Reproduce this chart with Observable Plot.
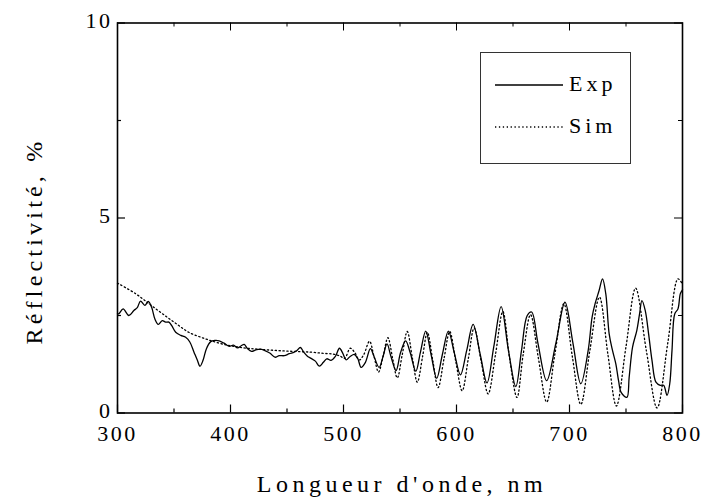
<!DOCTYPE html>
<html><head><meta charset="utf-8">
<script src="https://cdn.jsdelivr.net/npm/d3@7"></script>
<script src="https://cdn.jsdelivr.net/npm/@observablehq/plot@0.6"></script>
<style>
body{margin:0;background:#fff;}
#wrap{position:relative;width:702px;height:502px;font-family:"Liberation Serif","Times New Roman",serif;color:#000;}
.ttl{position:absolute;white-space:nowrap;line-height:24px;}
</style></head><body><div id="wrap"></div>
<script>
// Experimental reflectivity (wavelength nm, %)
const expNm = [300,301,305,310,314.5,317.5,320.4,324.2,327.2,330.2,333.1,336.1,339.6,342.6,345.5,348,351.5,356,360.3,364,367.7,370.7,373,375.7,378.7,382.5,386.3,390,394.3,398.8,402.6,406.2,409.8,412.1,415.1,418.6,422.5,426.3,430.4,435.1,439.3,443.1,447.6,452,456.4,458.8,461.8,464.8,468.3,471.3,475.1,478.6,482.2,485.2,489,492.8,496.4,499.4,502.3,505.9,509.7,512.7,515.6,519.4,523.8,527,531.5,535,538.5,542,546.5,550.5,555,559,564,568,572.8,577.5,582.5,587.5,592.8,598,603.5,609,614.7,621,627,633,639.5,646,652.5,657.5,662.6,666.5,672,679.8,688,696,703,710,716.5,720,722.6,726.2,729.2,732.1,735.1,738.1,741,743.4,745.7,750.8,752.8,755.8,759.6,762,764.1,767,770,773,776.5,780.3,783.3,786.3,788.7,790.7,793.1,796,798.1,800];
const expR = [2.55,2.54,2.67,2.50,2.63,2.70,2.87,2.76,2.86,2.71,2.41,2.27,2.37,2.33,2.33,2.24,2.07,1.99,1.94,1.82,1.56,1.35,1.20,1.35,1.65,1.83,1.86,1.85,1.79,1.71,1.74,1.67,1.73,1.76,1.65,1.58,1.62,1.64,1.60,1.53,1.43,1.47,1.47,1.52,1.56,1.60,1.68,1.56,1.45,1.40,1.33,1.20,1.30,1.39,1.35,1.45,1.66,1.53,1.36,1.45,1.50,1.39,1.17,1.30,1.65,1.45,1.17,1.45,1.77,1.45,1.09,1.55,1.85,1.55,1.07,1.55,2.10,1.50,0.89,1.50,2.10,1.55,0.98,1.60,2.27,1.50,0.77,1.70,2.73,1.60,0.68,1.60,2.50,2.59,1.80,0.83,1.80,2.84,1.80,0.75,1.60,2.46,2.80,3.14,3.44,3.06,2.03,1.60,1.26,0.83,0.53,0.40,0.92,1.69,2.12,2.54,2.88,2.63,2.03,1.35,0.79,0.71,0.71,0.45,0.75,1.60,2.54,2.67,3.06,3.16];
// Simulated reflectivity
const simNm = [300,316,328,340,352,363,378,394,412,427,442,456,471,482,491,497,501,506,510,514,518,523,527,531,535,539.3,543.5,547.6,552,556.4,561,565.3,570,574.2,579,583.7,589,594,599.5,605,610.5,615.6,622,628,634.5,641,647,653.5,659,665.5,672.5,679.8,687,695,702.5,710,718,726.5,734,741.5,750,758.5,768,777.5,787,796,800];
const simR = [3.33,3.06,2.80,2.54,2.29,2.07,1.90,1.76,1.67,1.63,1.60,1.58,1.56,1.53,1.51,1.46,1.40,1.66,1.55,1.36,1.50,1.84,1.45,1.05,1.45,1.93,1.40,0.90,1.50,2.09,1.40,0.79,1.45,2.07,1.35,0.65,1.40,2.09,1.30,0.57,1.40,2.18,1.30,0.49,1.50,2.60,1.40,0.40,1.50,2.52,1.40,0.28,1.50,2.80,1.45,0.22,1.60,2.97,1.50,0.18,1.70,3.20,1.60,0.13,1.80,3.44,3.30];

const xTicks = [300,400,500,600,700,800];
const xMinor = [350,450,550,650,750];
const yTicks = [0,5,10];
const yMinor = [2.5,7.5];
const seriesNames = ["Exp","Sim"];
const xTitle = "Longueur d'onde, nm";
const yTitle = "Réflectivité, %";

const exp = expNm.map((x,i)=>({x, y: expR[i]}));
const sim = simNm.map((x,i)=>({x, y: simR[i]}));

const W = 702, H = 502, mL = 117, mR = 20, mT = 22.5, mB = 89.5;
const xDom = [300,800], yDom = [0,10];
const pxX = (xDom[1]-xDom[0])/(W-mL-mR); // nm per px
const pxY = (yDom[1]-yDom[0])/(H-mT-mB); // % per px
const majL = 8, minL = 4;

const chart = Plot.plot({
  width: W, height: H,
  marginLeft: mL, marginRight: mR, marginTop: mT, marginBottom: mB,
  x: {domain: xDom},
  y: {domain: yDom},
  style: {fontFamily: "'Liberation Serif','Times New Roman',serif", fontSize: "22px", letterSpacing: "2.5px", background: "transparent", color: "#000", overflow: "visible"},
  marks: [
    Plot.axisX({ticks: xTicks, tickSize: 0, tickPadding: 12, label: null, tickFormat: d => String(d)}),
    Plot.axisY({ticks: yTicks, tickSize: 0, tickPadding: 5, dy: -2, label: null, tickFormat: d => String(d)}),
    // inward ticks bottom/top
    Plot.ruleX(xTicks, {y1: yDom[0], y2: yDom[0] + majL*pxY, stroke: "black", strokeWidth: 1.2}),
    Plot.ruleX(xMinor, {y1: yDom[0], y2: yDom[0] + minL*pxY, stroke: "black", strokeWidth: 1.2}),
    Plot.ruleX(xTicks, {y1: yDom[1], y2: yDom[1] - majL*pxY, stroke: "black", strokeWidth: 1}),
    Plot.ruleX(xMinor, {y1: yDom[1], y2: yDom[1] - minL*pxY, stroke: "black", strokeWidth: 1}),
    // inward ticks left/right
    Plot.ruleY(yTicks, {x1: xDom[0], x2: xDom[0] + majL*pxX, stroke: "black", strokeWidth: 1.2}),
    Plot.ruleY(yMinor, {x1: xDom[0], x2: xDom[0] + minL*pxX, stroke: "black", strokeWidth: 1.2}),
    Plot.ruleY(yTicks, {x1: xDom[1], x2: xDom[1] - majL*pxX, stroke: "black", strokeWidth: 1}),
    Plot.ruleY(yMinor, {x1: xDom[1], x2: xDom[1] - minL*pxX, stroke: "black", strokeWidth: 1}),
    Plot.line(sim, {x: "x", y: "y", stroke: "black", strokeWidth: 1.3, strokeDasharray: "1.3 2.6", curve: "catmull-rom"}),
    Plot.line(exp, {x: "x", y: "y", stroke: "black", strokeWidth: 1.3, curve: "catmull-rom"}),
    Plot.frame({stroke: "black", strokeWidth: 1.6})
  ]
});

const wrap = document.getElementById("wrap");
wrap.appendChild(chart);

const xt = document.createElement("div");
xt.className = "ttl";
xt.textContent = xTitle;
xt.style.cssText = "left:402px;top:472px;transform:translateX(-50%);font-size:24px;letter-spacing:4.5px;";
wrap.appendChild(xt);

const yt = document.createElement("div");
yt.className = "ttl";
yt.textContent = yTitle;
yt.style.cssText = "left:34px;top:241px;transform:translate(-50%,-50%) rotate(-90deg);font-size:24px;letter-spacing:4.2px;";
wrap.appendChild(yt);

// legend
const lg = document.createElement("div");
lg.style.cssText = "position:absolute;left:480px;top:52px;width:151px;height:112px;box-sizing:border-box;border:1px solid #333;background:#fff;";
const ns = "http://www.w3.org/2000/svg";
const ls = document.createElementNS(ns, "svg");
ls.setAttribute("width", 149); ls.setAttribute("height", 110);
ls.style.cssText = "position:absolute;left:0;top:0;";
const rows = [{name: seriesNames[0], y: 32, dash: null}, {name: seriesNames[1], y: 74, dash: "1.3 2.6"}];
rows.forEach(r => {
  const l = document.createElementNS(ns, "line");
  l.setAttribute("x1", 14); l.setAttribute("x2", 82);
  l.setAttribute("y1", r.y); l.setAttribute("y2", r.y);
  l.setAttribute("stroke", "black"); l.setAttribute("stroke-width", 1.3);
  if (r.dash) l.setAttribute("stroke-dasharray", r.dash);
  ls.appendChild(l);
  const t = document.createElementNS(ns, "text");
  t.setAttribute("x", 88); t.setAttribute("y", r.y + 6);
  t.setAttribute("font-size", 22);
  t.setAttribute("font-family", "'Liberation Serif','Times New Roman',serif");
  t.setAttribute("letter-spacing", "4px");
  t.textContent = r.name;
  ls.appendChild(t);
});
lg.appendChild(ls);
wrap.appendChild(lg);
</script></body></html>
